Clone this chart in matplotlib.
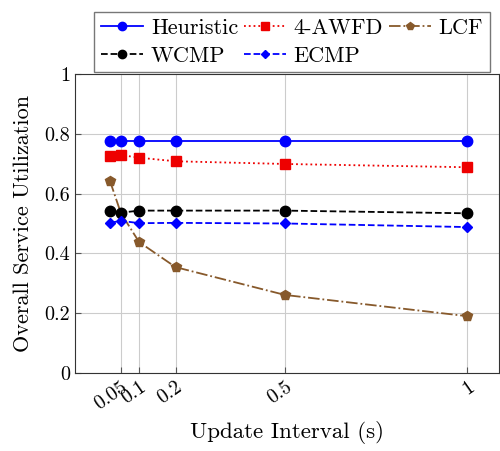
import matplotlib
matplotlib.use("Agg")
import matplotlib.pyplot as plt

plt.rcParams['font.family'] = 'serif'
plt.rcParams['font.serif'] = ['cmr10', 'DejaVu Serif']
plt.rcParams['mathtext.fontset'] = 'cm'
plt.rcParams['axes.formatter.use_mathtext'] = True

# update intervals (s)
intervals = [0.02, 0.05, 0.1, 0.2, 0.5, 1]
xticks = [0.05, 0.1, 0.2, 0.5, 1]
xticklabels = ['0.05', '0.1', '0.2', '0.5', '1']

heuristic = [0.776, 0.776, 0.776, 0.776, 0.776, 0.776]
awfd = [0.727, 0.729, 0.720, 0.708, 0.699, 0.688]
lcf = [0.643, 0.535, 0.438, 0.354, 0.261, 0.190]
wcmp = [0.543, 0.536, 0.543, 0.543, 0.543, 0.534]
ecmp = [0.502, 0.509, 0.501, 0.502, 0.500, 0.488]

fig = plt.figure(figsize=(5, 4.51), dpi=100)
ax = fig.add_axes([0.15, 0.173, 0.848, 0.663])

h1, = ax.plot(intervals, heuristic, '-', color='#0000ff', marker='o', ms=7.5, lw=1.3, label='Heuristic')
h2, = ax.plot(intervals, awfd, ':', color='#ee0000', marker='s', ms=7, lw=1.3, label='4-AWFD')
h3, = ax.plot(intervals, lcf, '-.', color='#87592b', marker='p', ms=7.5, lw=1.3, label='LCF')
h4, = ax.plot(intervals, wcmp, '--', color='black', marker='o', ms=7.5, lw=1.3, label='WCMP')
h5, = ax.plot(intervals, ecmp, '--', color='#0000ff', marker='D', ms=5, lw=1.3, label='ECMP')

ax.set_xlim(-0.0757, 1.087)
ax.set_ylim(0, 1)
ax.set_xticks(xticks)
ax.set_xticklabels(xticklabels, rotation=35, ha='right', va='top', rotation_mode='anchor')
ax.set_yticks([0, 0.2, 0.4, 0.6, 0.8, 1])
ax.set_yticklabels(['0', '0.2', '0.4', '0.6', '0.8', '1'])
ax.tick_params(direction='in', length=4, labelsize=14.5, color='#555555')
ax.grid(True, color='#cccccc', lw=0.8)
for s in ax.spines.values():
    s.set_color('#333333')

ax.set_xlabel('Update Interval (s)', fontsize=16.5, labelpad=6)
ax.set_ylabel('Overall Service Utilization', fontsize=16, labelpad=8)

# order so that rows read Heuristic/4-AWFD/LCF then WCMP/ECMP
handles = [h1, h4, h2, h5, h3]
leg = fig.legend(handles, [h.get_label() for h in handles], loc='upper center',
                 bbox_to_anchor=(0.584, 0.998), ncol=3, fontsize=16,
                 frameon=True, fancybox=False, edgecolor='#555555', handlelength=1.9,
                 columnspacing=0.25, handletextpad=0.35, borderpad=0.3, labelspacing=0.35,
                 markerscale=0.8)
leg.get_frame().set_linewidth(1.0)

fig.savefig('out.png', dpi=100)
